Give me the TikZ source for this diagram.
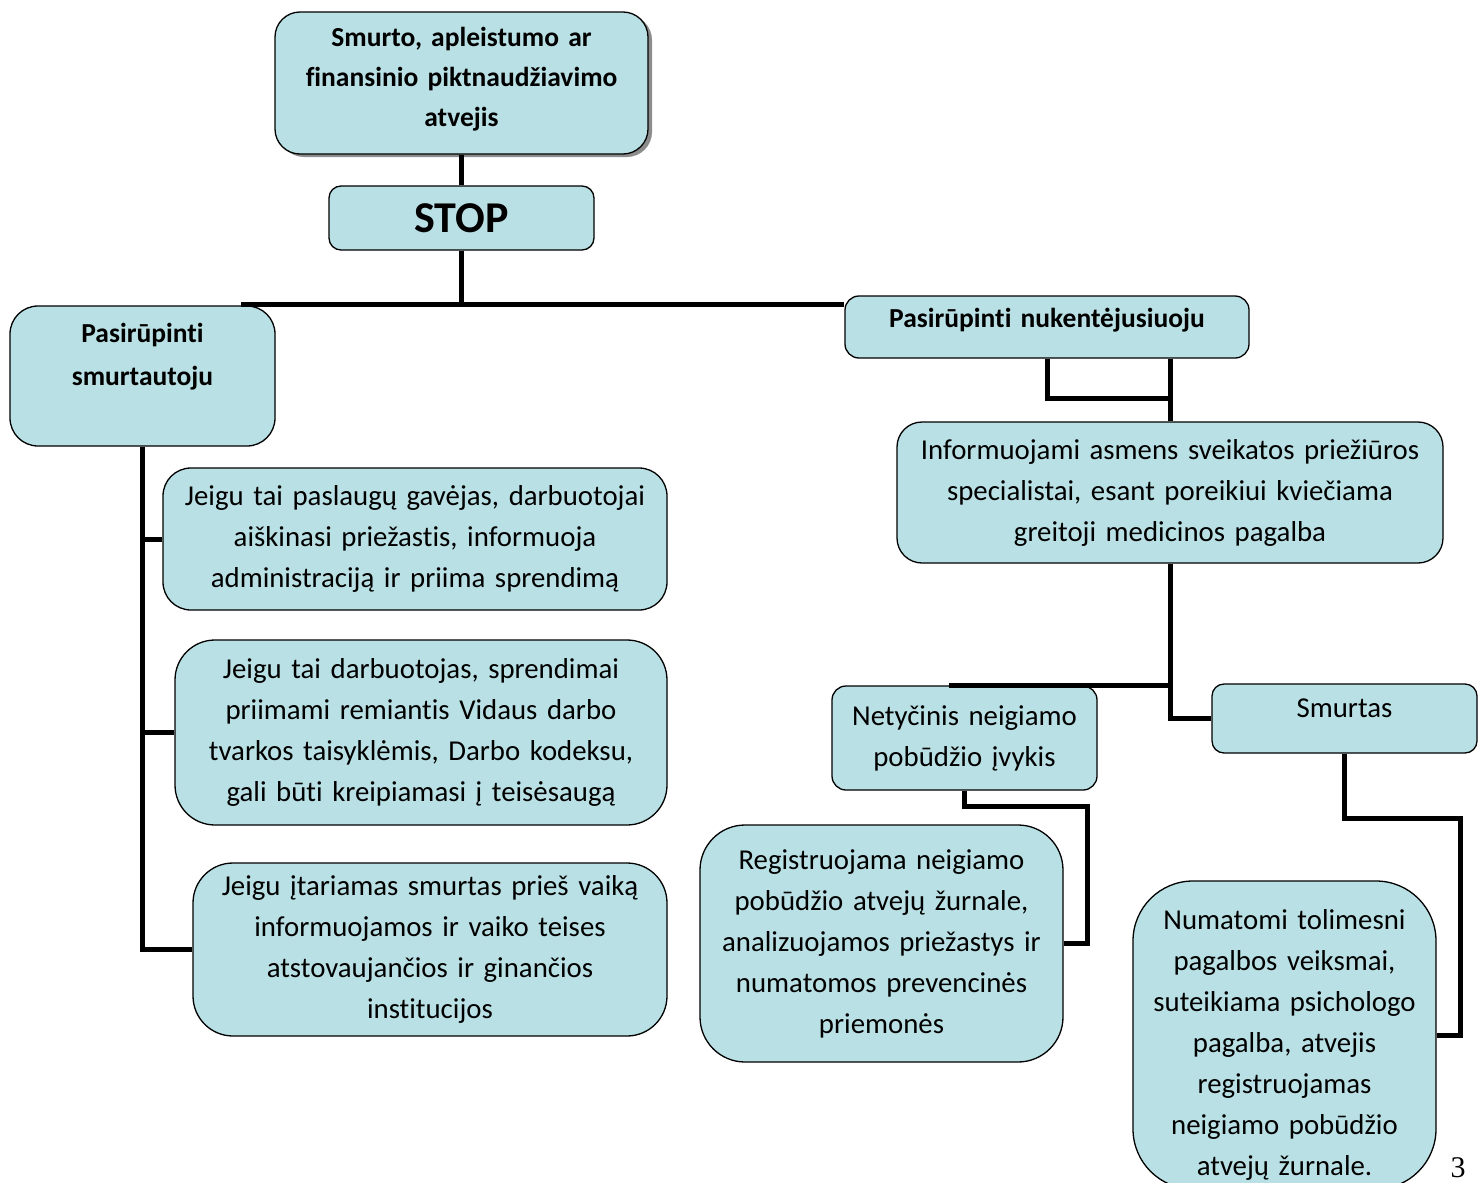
\documentclass[tikz,border=0pt]{standalone}
\usepackage{fontspec}
\setmainfont{Carlito}[Ligatures=CommonOff]
\newfontfamily\pagefont{Liberation Serif}
\usetikzlibrary{shadows}

\begin{document}
\begin{tikzpicture}[x=1pt,y=-1pt,
		box/.style={draw, line width=1.3pt, fill=boxblue, rounded corners=25pt, inner sep=0pt, align=center, font=\fontsize{28.8}{41}\selectfont},
		head/.style={box, font=\fontsize{27.5}{40}\selectfont\bfseries},
		link/.style={line width=5pt}]
		\definecolor{boxblue}{RGB}{185,224,228}
		\useasboundingbox (0,0) rectangle (1483,1183);
		% top part
		\node (event) at (461.5,83) [head, text width=373pt, minimum height=142pt, drop shadow={shadow xshift=4pt, shadow yshift=-3pt, fill=black!45, opacity=1}] {Smurto, apleistumo ar\\finansinio piktnaudžiavimo\\atvejis\\[-28pt]\mbox{}};
		\node (stop) at (461.5,218) [head, text width=265pt, minimum height=64pt, rounded corners=12pt, font=\fontsize{44}{44}\selectfont\bfseries] {STOP};
		\node (perp) at (142.5,376) [head, text width=265pt, minimum height=140pt, rounded corners=28pt, font=\fontsize{27.5}{43}\selectfont\bfseries] {Pasirūpinti\\smurtautoju\\\mbox{}};
		\node (care) at (1047,327) [head, text width=404pt, minimum height=62pt, rounded corners=14pt] {Pasirūpinti nukentėjusiuoju\\[-22pt]\mbox{}};
		\coordinate (barL) at (241,304);
		\draw[link] (event.south) -- (stop.north);
		\draw[link] (stop.south) -- (stop.south |- barL);
		\draw[link] (barL) -- (barL -| care.west);
		% left branch
		\node (j1) at (415,539) [box, text width=504pt, minimum height=142pt, rounded corners=28pt] {Jeigu tai paslaugų gavėjas, darbuotojai\\aiškinasi priežastis, informuoja\\administraciją ir priima sprendimą};
		\node (j2) at (421,732.5) [box, text width=492pt, minimum height=185pt, rounded corners=40pt] {Jeigu tai darbuotojas, sprendimai\\priimami remiantis Vidaus darbo\\tvarkos taisyklėmis, Darbo kodeksu,\\gali būti kreipiamasi į teisėsaugą};
		\node (j3) at (430,949.5) [box, text width=474pt, minimum height=173pt, rounded corners=40pt] {Jeigu įtariamas smurtas prieš vaiką\\informuojamos ir vaiko teises\\atstovaujančios ir ginančios\\institucijos};
		\draw[link] (perp.south) |- (j3.west);
		\draw[link] (perp.south |- j1.west) -- (j1.west);
		\draw[link] (perp.south |- j2.west) -- (j2.west);
		% right branch
		\node (info) at (1170,492.5) [box, text width=546pt, minimum height=141pt, rounded corners=25pt] {Informuojami asmens sveikatos priežiūros\\specialistai, esant poreikiui kviečiama\\greitoji medicinos pagalba};
		\node (acc) at (964.5,738) [box, text width=265pt, minimum height=104pt, rounded corners=14pt] {Netyčinis neigiamo\\pobūdžio įvykis};
		\node (smurt) at (1344.5,718.5) [box, text width=265pt, minimum height=69pt, rounded corners=12pt] {Smurtas\\[-20pt]\mbox{}};
		\node (reg) at (881.5,943.5) [box, text width=363pt, minimum height=237pt, rounded corners=45pt] {Registruojama neigiamo\\pobūdžio atvejų žurnale,\\analizuojamos priežastys ir\\numatomos prevencinės\\priemonės};
		\node (help) at (1284.5,1035) [box, text width=303pt, minimum height=308pt, rounded corners=60pt] {Numatomi tolimesni\\pagalbos veiksmai,\\suteikiama psichologo\\pagalba, atvejis\\registruojamas\\neigiamo pobūdžio\\atvejų žurnale.\\[-55pt]\mbox{}};
		\draw[link] (care.south) -- ++(0,40) -| (info.north);
		\draw[link] (info.north |- care.south) -- (info.north);
		\draw[link] (info.south) |- (smurt.west);
		\draw[link] (info.south |- acc.north) -- ([xshift=-16pt]acc.north);
		\draw[link] (acc.south) -- ++(0,16) -| ([xshift=24pt]reg.east) -- (reg.east);
		\draw[link] (smurt.south) -- ++(0,65) -| ([xshift=24pt]help.east) -- (help.east);
		\node (page) at (1458,1168) [font=\fontsize{30}{30}\pagefont] {3};
	\end{tikzpicture}
\end{document}
